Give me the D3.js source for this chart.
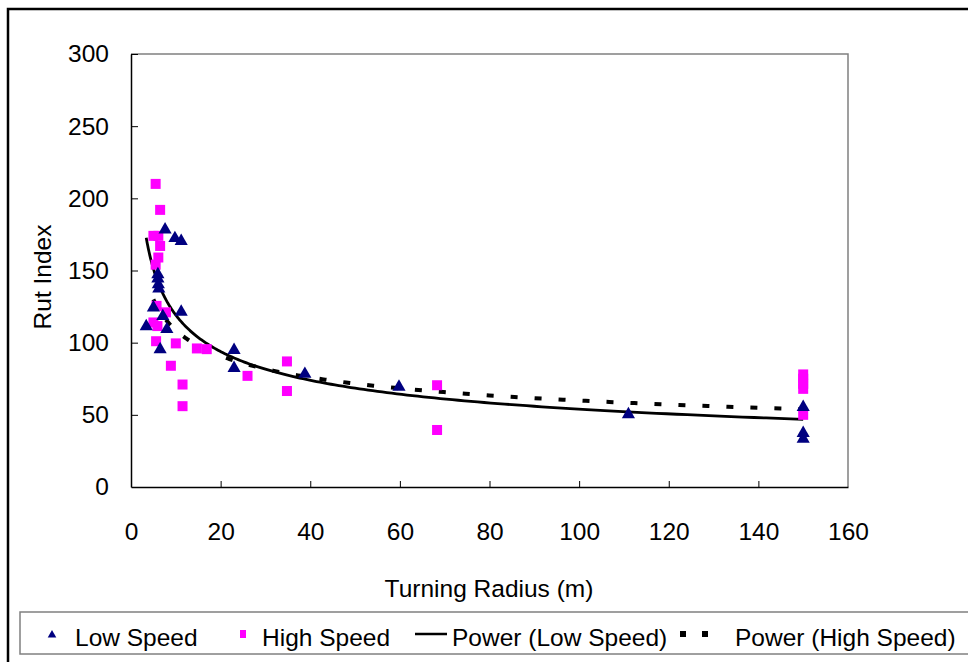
<!DOCTYPE html>
<html>
<head>
<meta charset="utf-8">
<script src="https://cdn.jsdelivr.net/npm/d3@7/dist/d3.min.js"></script>
<style>
  body { margin: 0; background: #fff; }
  svg { display: block; font-family: "Liberation Sans", Arial, sans-serif; }
</style>
</head>
<body>
<svg></svg>
<script>
// Low speed observations (turning radius m, rut index)
let lowX = [3.4, 6.0, 6.0, 6.1, 6.2, 6.5, 7.1, 7.6, 8.0, 9.8, 11.2, 11.2, 5.0, 23, 23, 38.8, 59.8, 111, 150, 150, 150];
let lowY = [112, 148, 145, 141, 138, 96, 119, 179, 110, 173, 171, 122, 125, 95.5, 83, 79, 70, 51, 56, 38, 34];

// High speed observations
let highX = [5.5, 6.5, 5.0, 6.1, 6.5, 6.1, 5.5, 5.7, 7.8, 5.0, 5.9, 5.6, 10, 14.7, 16.9, 8.9, 11.5, 11.5, 26, 34.8, 34.8, 68.3, 68.3, 150, 150, 150, 150, 150];
let highY = [210, 192, 174, 174, 167, 159, 154, 125.5, 121, 114, 111.5, 101, 99.5, 96, 95.5, 84, 71, 56, 77, 87, 66.5, 70.5, 39.5, 78, 75, 71.5, 68, 50];

// power trendline coefficients y = a * x^b
let lowFit = [263, -0.344];
let highFit = [197, -0.2585];

let xTicks = [0, 20, 40, 60, 80, 100, 120, 140, 160];
let yTicks = [0, 50, 100, 150, 200, 250, 300];

let legendNames = ["Low Speed", "High Speed", "Power (Low Speed)", "Power (High Speed)"];

let svgWidth = 968;
let svgHeight = 662;
let plotLeft = 131, plotRight = 848, plotTop = 54, plotBottom = 487;
let fontSize = 24.5;

var svg = d3.select("svg")
    .attr("width", svgWidth)
    .attr("height", svgHeight);

// outer chart frame (runs off right/bottom)
svg.append("rect")
    .attr("x", 8).attr("y", 9)
    .attr("width", 1000).attr("height", 700)
    .attr("fill", "none")
    .attr("stroke", "#000")
    .attr("stroke-width", 2.5);

let xScale = d3.scaleLinear().domain([0, 160]).range([plotLeft, plotRight]);
let yScale = d3.scaleLinear().domain([0, 300]).range([plotBottom, plotTop]);

// plot area border
svg.append("path")
    .attr("d", `M${plotLeft},${plotTop}H${plotRight}V${plotBottom}`)
    .attr("fill", "none")
    .attr("stroke", "#808080")
    .attr("stroke-width", 1.5);

let xAxis = d3.axisBottom(xScale)
    .tickValues(xTicks)
    .tickSize(-6)
    .tickSizeOuter(0)
    .tickPadding(36);
let yAxis = d3.axisLeft(yScale)
    .tickValues(yTicks)
    .tickSize(-7)
    .tickSizeOuter(0)
    .tickPadding(22);

let gx = svg.append("g")
    .attr("transform", `translate(0, ${plotBottom})`)
    .call(xAxis);
let gy = svg.append("g")
    .attr("transform", `translate(${plotLeft}, 0)`)
    .call(yAxis);

[gx, gy].forEach(g => {
    g.select(".domain").attr("stroke", "#000").attr("stroke-width", 1.5);
    g.selectAll(".tick line").attr("stroke", "#000");
    g.selectAll(".tick text")
        .attr("font-size", fontSize)
        .attr("fill", "#000")
        .attr("font-family", "Liberation Sans, Arial, sans-serif");
});
gx.selectAll(".tick line").filter(d => d === 0 || d === 160).remove();
gy.selectAll(".tick line").filter(d => d === 0).remove();

// trendlines
function powerPoints(fit, xs) {
    let lo = d3.min(xs), hi = d3.max(xs);
    return d3.range(0, 201).map(i => {
        let x = lo * Math.pow(hi / lo, i / 200);
        return [x, fit[0] * Math.pow(x, fit[1])];
    });
}
let line = d3.line()
    .x(d => xScale(d[0]))
    .y(d => yScale(d[1]));

svg.append("path")
    .attr("d", line(powerPoints(highFit, highX)))
    .attr("fill", "none")
    .attr("stroke", "#000")
    .attr("stroke-width", 4)
    .attr("stroke-dasharray", "7,17");

svg.append("path")
    .attr("d", line(powerPoints(lowFit, lowX)))
    .attr("fill", "none")
    .attr("stroke", "#000")
    .attr("stroke-width", 2.8);

// high speed squares
svg.selectAll("rect.high")
    .data(highX)
    .enter()
    .append("rect")
    .attr("class", "high")
    .attr("x", (d, i) => xScale(d) - 5)
    .attr("y", (d, i) => yScale(highY[i]) - 5)
    .attr("width", 10)
    .attr("height", 10)
    .attr("fill", "#ff00ff");

// low speed triangles
let tri = d3.symbol().type(d3.symbolTriangle).size(75);
svg.selectAll("path.low")
    .data(lowX)
    .enter()
    .append("path")
    .attr("class", "low")
    .attr("d", tri)
    .attr("transform", (d, i) => `translate(${xScale(d)}, ${yScale(lowY[i]) + 1})`)
    .attr("fill", "#000080");

// axis titles
svg.append("text")
    .text("Turning Radius (m)")
    .attr("x", 489)
    .attr("y", 597)
    .attr("font-size", fontSize)
    .attr("text-anchor", "middle");

svg.append("text")
    .text("Rut Index")
    .attr("transform", "rotate(-90)")
    .attr("x", -277)
    .attr("y", 51)
    .attr("font-size", fontSize)
    .attr("text-anchor", "middle");

// legend
svg.append("rect")
    .attr("x", 20).attr("y", 612)
    .attr("width", 1000).attr("height", 42)
    .attr("fill", "#fff")
    .attr("stroke", "#808080")
    .attr("stroke-width", 1.5);

let legY = 646;
svg.append("path")
    .attr("d", d3.symbol().type(d3.symbolTriangle).size(32))
    .attr("transform", `translate(52, ${legY - 11})`)
    .attr("fill", "#000080");
svg.append("rect")
    .attr("x", 240).attr("y", legY - 16)
    .attr("width", 6).attr("height", 8)
    .attr("fill", "#ff00ff");
svg.append("line")
    .attr("x1", 415).attr("x2", 447)
    .attr("y1", legY - 12).attr("y2", legY - 12)
    .attr("stroke", "#000").attr("stroke-width", 2.5);
svg.append("line")
    .attr("x1", 680).attr("x2", 712)
    .attr("y1", legY - 12).attr("y2", legY - 12)
    .attr("stroke", "#000").attr("stroke-width", 6)
    .attr("stroke-dasharray", "6,16");

let legX = [75, 262, 452, 735];
svg.selectAll("text.leg")
    .data(legendNames)
    .enter()
    .append("text")
    .attr("class", "leg")
    .text(d => d)
    .attr("x", (d, i) => legX[i])
    .attr("y", legY)
    .attr("font-size", fontSize);
</script>
</body>
</html>
